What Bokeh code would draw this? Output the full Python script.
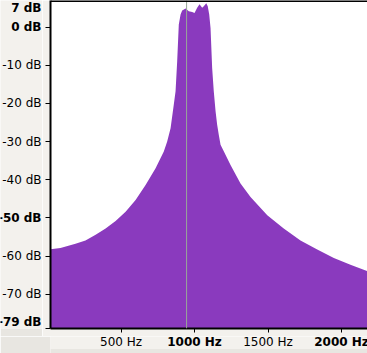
from bokeh.plotting import figure
from bokeh.layouts import column, row
from bokeh.models import Span, FixedTicker, Range1d, ColumnDataSource
from bokeh.core.properties import value
from bokeh.embed import file_html
from bokeh.resources import INLINE

# Spectrum (frequency in Hz, level in dB)
freq_hz = [20, 88, 190, 258, 327, 395, 463, 531, 599, 667, 735, 791, 814, 837,
           859, 871, 882, 893, 905, 916, 939, 961, 984, 1000, 1018, 1034, 1052,
           1063, 1080, 1090, 1100, 1109, 1120, 1131, 1143, 1154, 1165, 1177,
           1199, 1245, 1313, 1381, 1495, 1607, 1721, 1835, 1948, 2061, 2177]
level_db = [-58.2, -57.9, -56.8, -55.9, -54.4, -52.8, -50.8, -48.4, -45.3, -41.4,
            -37.0, -32.6, -30.0, -26.5, -20.3, -16.8, -8.9, 0.7, 3.3, 4.4, 4.9,
            4.2, 4.0, 3.7, 5.1, 6.0, 5.1, 5.5, 6.3, 5.5, 3.3, -0.2, -10.7, -16.8,
            -22.0, -25.6, -28.2, -30.8, -32.5, -36.1, -41.0, -44.5, -49.3, -52.8,
            -55.9, -58.3, -60.5, -62.3, -64.0]

cursor_hz = 946

x_ticks = [500, 1000, 1500, 2000]
x_tick_labels = ["500 Hz", "1000 Hz", "1500 Hz", "2000 Hz"]
x_tick_bold = [False, True, False, True]

y_ticks = [7, 0, -10, -20, -30, -40, -50, -60, -70, -79]
y_tick_labels = ["7 dB", "0 dB", "-10 dB", "-20 dB", "-30 dB", "-40 dB",
                 "-50 dB", "-60 dB", "-70 dB", "-79 dB"]
y_tick_bold = [True, True, False, False, False, False, True, False, False, True]

X_MIN, X_MAX = 20, 2177
Y_MIN, Y_MAX = -79, 7

PURPLE = "#8a3abe"
LIGHT = "#f3f1ed"
DARK = "#e8e6e1"
FONT = "DejaVu Sans"

xr = Range1d(X_MIN, X_MAX)
yr = Range1d(Y_MIN, Y_MAX)

# ---- main plot
p = figure(width=325, height=336, output_backend="svg", toolbar_location=None,
           x_range=xr, y_range=yr,
           min_border_left=8, min_border_right=0, min_border_top=0,
           min_border_bottom=8)
p.background_fill_color = "white"
p.border_fill_color = LIGHT
p.outline_line_color = None
p.grid.visible = False

p.varea(x=freq_hz, y1=Y_MIN, y2=level_db, fill_color=PURPLE)
p.add_layout(Span(location=cursor_hz, dimension="height", line_color="#98a898",
                  line_width=1))
p.add_layout(Span(location=Y_MAX, dimension="width", line_color="black",
                  line_width=3))

for ax in (p.xaxis[0], p.yaxis[0]):
    ax.axis_line_color = "black"
    ax.axis_line_width = 2
    ax.major_tick_line_color = "black"
    ax.major_tick_in = 0
    ax.minor_tick_line_color = None
    ax.major_label_text_font_size = "0px"
    ax.major_label_text_color = None
    ax.major_label_standoff = 0
p.xaxis[0].major_tick_out = 4
p.yaxis[0].major_tick_out = 5
p.xaxis[0].ticker = FixedTicker(ticks=x_ticks)
p.yaxis[0].ticker = FixedTicker(ticks=[t for t in y_ticks if t != Y_MAX])

# ---- y tick labels panel (shares the dB scale)
yl = figure(width=42, height=336, output_backend="svg", toolbar_location=None,
            x_range=Range1d(0, 42), y_range=yr, x_axis_type=None,
            y_axis_type=None, min_border_left=0, min_border_right=0,
            min_border_top=0, min_border_bottom=8)
yl.background_fill_color = LIGHT
yl.border_fill_color = DARK
yl.outline_line_color = None
yl.grid.visible = False
baselines = ["top" if v == Y_MAX else ("bottom" if v == Y_MIN else "middle")
             for v in y_ticks]
ysrc = ColumnDataSource(dict(
    y=y_ticks, text=y_tick_labels, base=baselines,
    style=["bold" if b else "normal" for b in y_tick_bold]))
yl.text(x=41, y="y", text="text", source=ysrc, text_align="right",
        text_baseline="base", text_font=value(FONT), text_font_size="12px",
        text_font_style="style", text_color="black")

# ---- x tick labels panel (shares the Hz scale); y in pixels from the bottom
xl = figure(width=367, height=17, output_backend="svg", toolbar_location=None,
            x_range=xr, y_range=Range1d(0, 17), x_axis_type=None,
            y_axis_type=None, min_border_left=50, min_border_right=0,
            min_border_top=0, min_border_bottom=0)
xl.background_fill_color = LIGHT
xl.border_fill_color = DARK
xl.outline_line_color = None
xl.grid.visible = False
xl.quad(left=X_MIN, right=X_MAX, bottom=0, top=4.5, fill_color=DARK,
        line_color=None)
xsrc = ColumnDataSource(dict(
    x=x_ticks, text=x_tick_labels,
    style=["bold" if b else "normal" for b in x_tick_bold]))
xl.text(x="x", y=11.5, text="text", source=xsrc, text_align="center",
        text_baseline="middle", text_font=value(FONT), text_font_size="12px",
        text_font_style="style", text_color="black")

layout = column(row(yl, p, spacing=0), xl, spacing=0)
open("out.html", "w").write(file_html(layout, INLINE))
